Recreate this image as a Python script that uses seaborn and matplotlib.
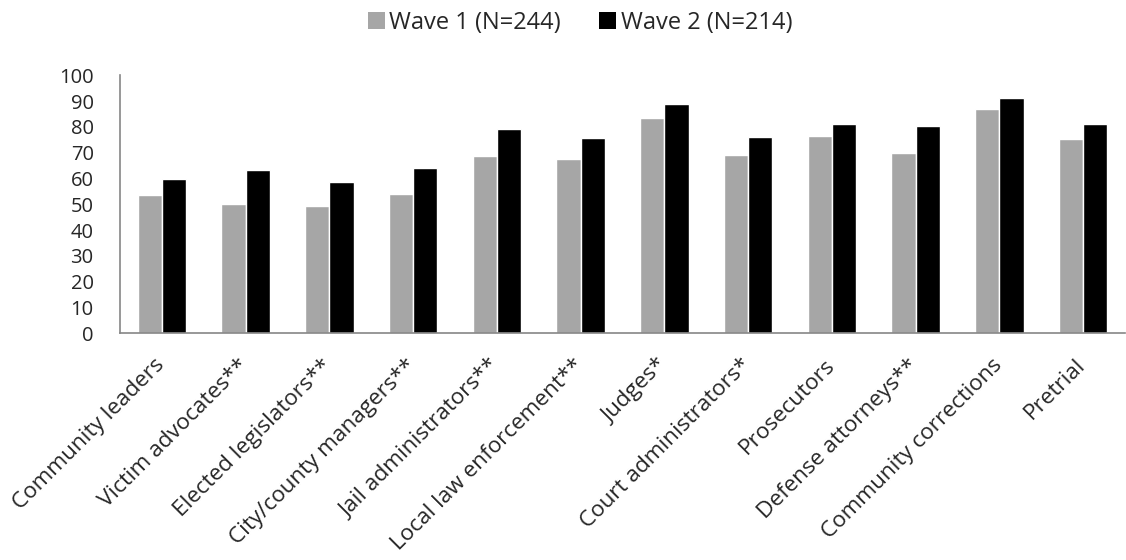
import pandas as pd
import matplotlib
matplotlib.use('Agg')
import matplotlib.pyplot as plt
import matplotlib.transforms as mtransforms
import seaborn as sns
from matplotlib.patches import Patch

groups = ['Community leaders', 'Victim advocates**', 'Elected legislators**',
          'City/county managers**', 'Jail administrators**', 'Local law enforcement**',
          'Judges*', 'Court administrators*', 'Prosecutors', 'Defense attorneys**',
          'Community corrections', 'Pretrial']
wave1 = [53.5, 50.1, 49.3, 54.0, 68.8, 67.5, 83.4, 69.2, 76.6, 69.8, 87.0, 75.4]
wave2 = [59.6, 63.2, 58.6, 64.1, 79.1, 75.5, 89.0, 76.0, 80.9, 80.4, 91.0, 80.9]
series = ['Wave 1 (N=244)', 'Wave 2 (N=214)']
colors = ['#A6A6A6', '#000000']

df = pd.DataFrame({
    'group': groups * 2,
    'value': wave1 + wave2,
    'wave': [series[0]] * len(groups) + [series[1]] * len(groups),
})

sns.set_style('white')
plt.rcParams['font.family'] = ['Open Sans', 'DejaVu Sans']

fig = plt.figure(figsize=(11.26, 5.6), dpi=100)
ax = fig.add_axes([0.1066, 0.405, 0.8925, 0.4607])

sns.barplot(data=df, x='group', y='value', hue='wave', palette=colors,
            width=0.58, gap=0, saturation=1, legend=False, ax=ax)

ax.set_ylim(0, 100)
ax.set_xlim(-0.5, len(groups) - 0.5)
ax.set_yticks(range(0, 101, 10))
ax.set_xlabel('')
ax.set_ylabel('')
ax.tick_params(axis='y', length=0, pad=19, labelsize=14.5)
ax.tick_params(axis='x', length=0, pad=15.5, labelsize=16.2)
# nudge the rotated labels a little to the left
shift = mtransforms.ScaledTranslation(-8 / 100, 0, fig.dpi_scale_trans)
for lbl in ax.get_xticklabels():
    lbl.set_rotation(45)
    lbl.set_ha('right')
    lbl.set_va('top')
    lbl.set_rotation_mode('anchor')
    lbl.set_transform(lbl.get_transform() + shift)

for side in ['top', 'right']:
    ax.spines[side].set_visible(False)
for side in ['left', 'bottom']:
    ax.spines[side].set_color('#868686')
    ax.spines[side].set_linewidth(1.2)

handles = [Patch(facecolor=c, edgecolor='none') for c in colors]
fig.legend(handles, series, loc='center', bbox_to_anchor=(0.515, 0.959), ncol=2,
           frameon=False, fontsize=17, handlelength=0.72, handleheight=0.72,
           handletextpad=0.2, columnspacing=1.6)

fig.savefig('out.png', dpi=100)
